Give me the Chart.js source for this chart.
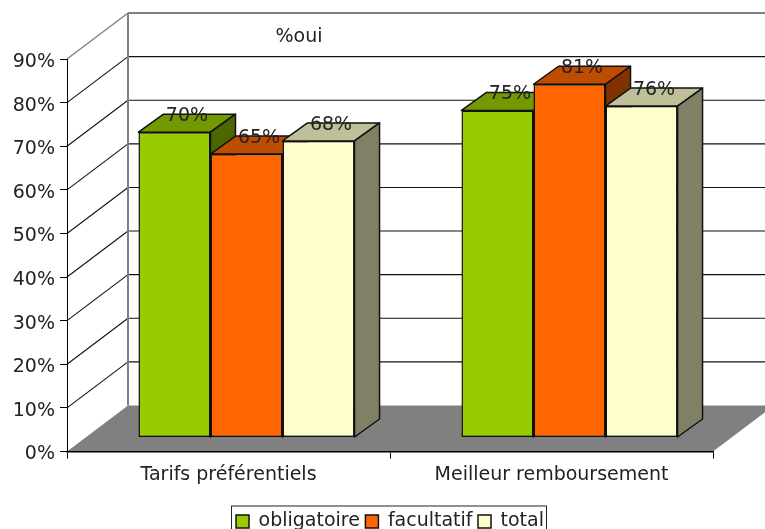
<!DOCTYPE html>
<html>
<head>
<meta charset="utf-8">
<title>%oui</title>
<script src="https://cdn.jsdelivr.net/npm/chart.js@4/dist/chart.umd.min.js"></script>
<style>
	html, body { margin: 0; padding: 0; background: #fff; overflow: hidden; }
	canvas { display: block; }
</style>
</head>
<body>
<canvas id="chart" width="765" height="529"></canvas>
<script>
const categories = ['Tarifs préférentiels', 'Meilleur remboursement'];
const seriesNames = ['obligatoire', 'facultatif', 'total'];
const obligatoire = [70, 75];
const facultatif = [65, 81];
const total = [68, 76];
const seriesValues = [obligatoire, facultatif, total];
const frontColors = ['#99CC00', '#FF6600', '#FFFFCC'];
const topColors = ['#739900', '#BF4D00', '#BFBF99'];
const sideColors = ['#4D6600', '#803300', '#808066'];
const titleText = '%oui';
const yMax = 90;
const yStep = 10;

const FONT = 'DejaVu Sans, Verdana, sans-serif';
const TEXT = '#222';
const EDGE = 1.5;
// depth of the box (walls) and of the bars, and where bars sit in it
const WALL_DX = 61, WALL_DY = 46;
const BAR_DX = 25, BAR_DY = 18;
const SHIFT_DX = 18, SHIFT_DY = 14;

function poly(ctx, pts, fill, stroke, lw) {
	ctx.beginPath();
	pts.forEach((p, i) => (i ? ctx.lineTo(p[0], p[1]) : ctx.moveTo(p[0], p[1])));
	ctx.closePath();
	if (fill) {
		ctx.fillStyle = fill;
		ctx.fill();
	}
	if (stroke) {
		ctx.strokeStyle = stroke;
		ctx.lineWidth = lw || 1;
		ctx.stroke();
	}
}

function line(ctx, x1, y1, x2, y2, color, lw) {
	ctx.beginPath();
	ctx.moveTo(x1, y1);
	ctx.lineTo(x2, y2);
	ctx.strokeStyle = color;
	ctx.lineWidth = lw;
	ctx.stroke();
}

const box3d = {
	id: 'box3d',
	beforeDraw(chart) {
		const { ctx, chartArea, scales } = chart;
		const y = scales.y;
		const left = chartArea.left, right = chartArea.right;
		const y0 = y.getPixelForValue(0);
		ctx.save();
		// floor
		poly(ctx, [
			[left, y0],
			[left + WALL_DX, y0 - WALL_DY],
			[right + WALL_DX, y0 - WALL_DY],
			[right, y0],
		], '#808080');
		// grid lines on side wall and back wall
		for (let v = yStep; v < yMax; v += yStep) {
			const py = y.getPixelForValue(v);
			line(ctx, left, py, left + WALL_DX, py - WALL_DY, '#111', 1.1);
			line(ctx, left + WALL_DX, py - WALL_DY, right + WALL_DX, py - WALL_DY, '#111', 1.1);
		}
		const yTop = y.getPixelForValue(yMax);
		line(ctx, left, yTop, left + WALL_DX, yTop - WALL_DY, '#808080', 1.5);
		line(ctx, left + WALL_DX, yTop - WALL_DY, right + WALL_DX, yTop - WALL_DY, '#808080', 2);
		line(ctx, left + WALL_DX, yTop - WALL_DY, left + WALL_DX, y0 - WALL_DY, '#808080', 2);
		ctx.restore();
	},
	// the native order paints the last dataset first, these boxes need left to right
	beforeDatasetDraw() {
		return false;
	},
	afterDatasetsDraw(chart) {
		const { ctx } = chart;
		ctx.save();
		ctx.translate(SHIFT_DX, -SHIFT_DY);
		ctx.lineJoin = 'round';
		seriesNames.forEach((name, d) => {
			chart.getDatasetMeta(d).data.forEach((bar) => {
				const l = bar.x - bar.width / 2, r = bar.x + bar.width / 2;
				poly(ctx, [[l, bar.y], [l + BAR_DX, bar.y - BAR_DY], [r + BAR_DX, bar.y - BAR_DY], [r, bar.y]], topColors[d], '#111', EDGE);
				poly(ctx, [[r, bar.y], [r + BAR_DX, bar.y - BAR_DY], [r + BAR_DX, bar.base - BAR_DY], [r, bar.base]], sideColors[d], '#111', EDGE);
				bar.draw(ctx);
			});
		});
		// value labels sit on the back edge of each top
		ctx.font = '19px ' + FONT;
		ctx.fillStyle = TEXT;
		ctx.textAlign = 'center';
		ctx.textBaseline = 'middle';
		seriesNames.forEach((name, d) => {
			chart.getDatasetMeta(d).data.forEach((bar, i) => {
				ctx.fillText(seriesValues[d][i] + '%', bar.x + BAR_DX / 2, bar.y - BAR_DY + 2);
			});
		});
		ctx.restore();
	},
	afterDraw(chart) {
		const { ctx, legend } = chart;
		ctx.save();
		ctx.font = '19px ' + FONT;
		ctx.fillStyle = TEXT;
		ctx.textAlign = 'center';
		ctx.textBaseline = 'middle';
		ctx.fillText(titleText, 299, 37);
		// frame round the legend, runs off the bottom of the page
		const boxes = legend.legendHitBoxes;
		const first = boxes[0], last = boxes[boxes.length - 1];
		ctx.strokeStyle = '#222';
		ctx.lineWidth = 1;
		ctx.strokeRect(first.left - 4.5, first.top - 6, last.left + last.width - first.left + 7, 40);
		ctx.restore();
	},
};

new Chart(document.getElementById('chart'), {
	type: 'bar',
	data: {
		labels: categories,
		datasets: seriesNames.map((name, d) => ({
			label: name,
			data: seriesValues[d],
			backgroundColor: frontColors[d],
			borderColor: '#111',
			borderWidth: EDGE,
			borderSkipped: false,
			categoryPercentage: 0.669,
			barPercentage: 1,
		})),
	},
	plugins: [box3d],
	options: {
		responsive: false,
		animation: false,
		layout: { padding: { top: 59, right: 52, left: 0, bottom: -12 } },
		scales: {
			x: {
				afterFit: (s) => {
					s.height = 55;
				},
				grid: { drawOnChartArea: false, tickLength: 7, color: '#000' },
				border: { color: '#000', width: 1.5 },
				ticks: { color: TEXT, font: { family: FONT, size: 19 }, padding: 5, maxRotation: 0 },
			},
			y: {
				min: 0,
				max: yMax,
				afterFit: (s) => {
					s.width = 67;
				},
				grid: { drawOnChartArea: false, tickLength: 7, color: '#000' },
				border: { color: '#000' },
				ticks: {
					stepSize: yStep,
					color: TEXT,
					font: { family: FONT, size: 19 },
					padding: 5,
					labelOffset: 3,
					callback: (v) => v + '%',
				},
			},
		},
		plugins: {
			tooltip: { enabled: false },
			legend: {
				position: 'bottom',
				fullSize: false,
				labels: {
					color: TEXT,
					font: { family: FONT, size: 19 },
					boxWidth: 13,
					boxHeight: 13,
					padding: 5.5,
				},
			},
		},
	},
});
</script>
</body>
</html>
